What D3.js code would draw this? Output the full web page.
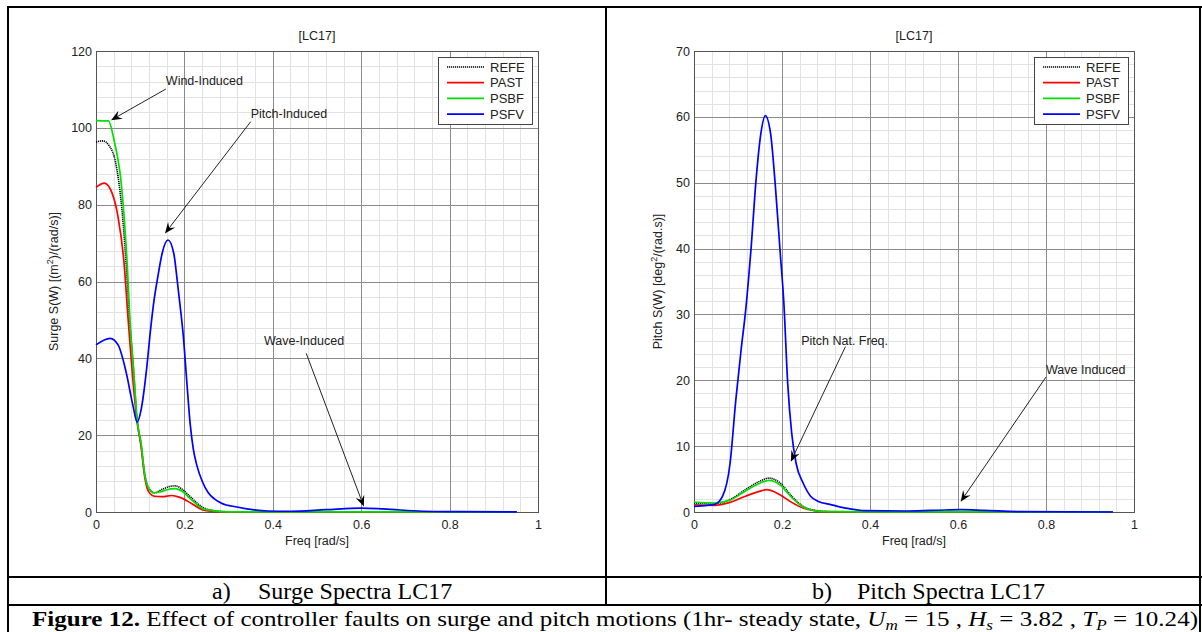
<!DOCTYPE html>
<html><head><meta charset="utf-8">
<script src="https://cdn.jsdelivr.net/npm/d3@7"></script>
<style>
html,body{margin:0;padding:0;background:#fff;}
svg{display:block;}
text{font-family:"Liberation Sans",Arial,Helvetica,sans-serif;fill:#222;}
text.serif{font-family:"Liberation Serif","Times New Roman",Times,serif;fill:#000;}
</style></head>
<body>
<script>
// ---------------- DATA ----------------
const seriesNames = ["REFE","PAST","PSBF","PSFV"];
const xTicks = [0,0.2,0.4,0.6,0.8,1];
const surgeTicks = [0,20,40,60,80,100,120];
const pitchTicks = [0,10,20,30,40,50,60,70];

// Surge spectra [freq, S]
const surgeREFE = [[0,96.3],[0.015,96.6],[0.03,95.3],[0.045,90.6],[0.058,79.5],[0.071,59.5],[0.076,50],[0.085,37],[0.093,24],[0.102,17.5],[0.11,10],[0.119,6.3],[0.132,5.0],[0.15,5.9],[0.165,6.6],[0.18,6.8],[0.195,5.9],[0.215,3.8],[0.24,1.3],[0.267,0.35],[0.3,0.06],[0.4,0.02],[0.6,0.05],[0.8,0.01],[0.952,0]];
const surgePAST = [[0,84.5],[0.019,85.6],[0.037,82.8],[0.05,76.7],[0.063,65.4],[0.073,49.7],[0.083,35],[0.093,23.5],[0.102,17],[0.11,9.3],[0.119,5.3],[0.132,4.1],[0.15,4.0],[0.171,4.3],[0.19,3.8],[0.215,2.3],[0.24,0.6],[0.26,0.2],[0.3,0.05],[0.4,0.02],[0.6,0.04],[0.8,0.01],[0.952,0]];
const surgePSBF = [[0,101.9],[0.028,101.8],[0.041,96.7],[0.058,84.5],[0.071,63.6],[0.077,49.7],[0.085,37],[0.093,24],[0.102,17.9],[0.11,10],[0.119,6.2],[0.132,5.0],[0.145,5.2],[0.16,5.8],[0.18,6.1],[0.195,5.4],[0.215,3.3],[0.24,1.0],[0.267,0.3],[0.3,0.05],[0.4,0.02],[0.6,0.05],[0.8,0.01],[0.952,0]];
const surgePSFV = [[0,43.5],[0.032,45.2],[0.05,43.5],[0.067,37],[0.084,27.5],[0.093,23.4],[0.102,26.6],[0.115,37.8],[0.123,47],[0.13,54],[0.141,62],[0.15,67.5],[0.163,70.8],[0.176,67.3],[0.184,60],[0.19,54],[0.197,46.5],[0.206,33],[0.213,23],[0.22,16.5],[0.228,12.2],[0.241,7.8],[0.254,5.0],[0.267,3.5],[0.284,2.3],[0.319,1.3],[0.354,0.6],[0.389,0.26],[0.44,0.2],[0.52,0.6],[0.6,1.0],[0.65,0.8],[0.74,0.2],[0.82,0.1],[0.952,0.02]];

// Pitch spectra [freq, S]
const pitchREFE = [[0,1.36],[0.047,1.26],[0.082,1.9],[0.117,3.4],[0.152,4.75],[0.17,5.15],[0.196,4.4],[0.222,2.4],[0.248,0.86],[0.274,0.25],[0.3,0.05],[0.5,0.02],[0.952,0]];
const pitchPAST = [[0,1.1],[0.047,1.0],[0.082,1.46],[0.117,2.4],[0.152,3.2],[0.165,3.4],[0.196,2.6],[0.222,1.46],[0.248,0.6],[0.274,0.2],[0.3,0.05],[0.5,0.02],[0.952,0]];
const pitchPSBF = [[0,1.5],[0.047,1.36],[0.082,1.8],[0.117,3.2],[0.152,4.45],[0.17,4.8],[0.196,4.1],[0.222,2.2],[0.248,0.75],[0.274,0.2],[0.3,0.05],[0.5,0.02],[0.952,0]];
const pitchPSFV = [[0,0.86],[0.03,1.0],[0.047,1.16],[0.065,2.4],[0.082,7.4],[0.095,17],[0.107,24.6],[0.118,31],[0.13,40.3],[0.141,50.4],[0.152,57.5],[0.162,60.2],[0.174,57.5],[0.185,49.4],[0.196,39.3],[0.204,32],[0.213,19.5],[0.222,12],[0.232,7.4],[0.248,4.4],[0.265,2.4],[0.283,1.6],[0.309,1.16],[0.344,0.6],[0.388,0.2],[0.484,0.15],[0.571,0.3],[0.606,0.35],[0.659,0.25],[0.746,0.05],[0.952,0]];

const seriesColors = ["#000000","#ff0000","#00e000","#0000ff"];

// annotations in data coords: text, text anchor point, arrow tail, arrow tip
const surgeNotes = [
  {label:"Wind-Induced", text:[0.158,112.4], tail:[0.158,110.1], tip:[0.034,102]},
  {label:"Pitch-Induced", text:[0.35,103.8], tail:[0.35,101.6], tip:[0.156,72.5]},
  {label:"Wave-Induced", text:[0.38,44.6], tail:[0.4756,41.3], tip:[0.606,1.4]}
];
const pitchNotes = [
  {label:"Pitch Nat. Freq.", text:[0.2436,26.0], tail:[0.3441,25.1], tip:[0.22,7.64]},
  {label:"Wave Induced", text:[0.8,21.7], tail:[0.8,20.5], tip:[0.606,1.56]}
];

// ---------------- DRAW ----------------
const W=1202,H=632;
const svg=d3.select("body").append("svg").attr("width",W).attr("height",H);
svg.append("rect").attr("width",W).attr("height",H).attr("fill","#fff");

function panel(opt){
  const g=svg.append("g");
  const x=d3.scaleLinear().domain([0,1]).range([opt.x0,opt.x1]);
  const y=d3.scaleLinear().domain([0,opt.ymax]).range([opt.y1,opt.y0]);
  const xMinor=d3.range(0,1.0001,0.04).filter(v=>Math.abs(v/0.2-Math.round(v/0.2))>1e-6);
  const yMinor=d3.range(0,opt.ymax+1e-6,opt.minor).filter(v=>Math.abs(v/opt.major-Math.round(v/opt.major))>1e-6);
  g.selectAll(".xm").data(xMinor).join("line").attr("x1",d=>Math.round(x(d))+0.5).attr("x2",d=>Math.round(x(d))+0.5)
    .attr("y1",opt.y0).attr("y2",opt.y1).attr("stroke","#e2e2e2").attr("stroke-width",1);
  g.selectAll(".ym").data(yMinor).join("line").attr("y1",d=>Math.round(y(d))+0.5).attr("y2",d=>Math.round(y(d))+0.5)
    .attr("x1",opt.x0).attr("x2",opt.x1).attr("stroke","#e2e2e2").attr("stroke-width",1);
  g.selectAll(".xM").data(xTicks).join("line").attr("x1",d=>Math.round(x(d))+0.5).attr("x2",d=>Math.round(x(d))+0.5)
    .attr("y1",opt.y0).attr("y2",opt.y1).attr("stroke","#8a8a8a").attr("stroke-width",1);
  g.selectAll(".yM").data(opt.ticks).join("line").attr("y1",d=>Math.round(y(d))+0.5).attr("y2",d=>Math.round(y(d))+0.5)
    .attr("x1",opt.x0).attr("x2",opt.x1).attr("stroke","#8a8a8a").attr("stroke-width",1);
  const xa=g.append("g").attr("transform",`translate(0,${opt.y1})`)
    .call(d3.axisBottom(x).tickValues(xTicks).tickFormat(d3.format("~g")).tickSize(0).tickPadding(8));
  xa.select(".domain").remove();
  xa.selectAll("text").attr("font-size","12.5px").attr("fill","#222").attr("font-family",'"Liberation Sans",Arial,sans-serif');
  const ya=g.append("g").attr("transform",`translate(${opt.x0},0)`)
    .call(d3.axisLeft(y).tickValues(opt.ticks).tickSize(0).tickPadding(4));
  ya.select(".domain").remove();
  ya.selectAll("text").attr("font-size","12.5px").attr("fill","#222").attr("font-family",'"Liberation Sans",Arial,sans-serif');
  g.append("rect").attr("x",opt.x0+0.5).attr("y",opt.y0+0.5).attr("width",opt.x1-opt.x0).attr("height",opt.y1-opt.y0)
    .attr("fill","none").attr("stroke","#555").attr("stroke-width",1);
  const line=d3.line().x(d=>x(d[0])).y(d=>y(d[1])).curve(d3.curveMonotoneX);
  opt.series.forEach((s,i)=>{
    g.append("path").attr("d",line(s)).attr("fill","none").attr("stroke",seriesColors[i])
      .attr("stroke-width",i===0?1.6:1.7).attr("stroke-dasharray",i===0?"1.2,0.8":null).attr("stroke-linejoin","round");
  });
  g.append("text").attr("x",(opt.x0+opt.x1)/2).attr("y",40).attr("text-anchor","middle").attr("font-size","12.5px").text("[LC17]");
  g.append("text").attr("x",(opt.x0+opt.x1)/2).attr("y",545).attr("text-anchor","middle").attr("font-size","12.5px").text("Freq [rad/s]");
  const yl=g.append("text").attr("transform",`translate(${opt.ylabX},${(opt.y0+opt.y1)/2}) rotate(-90)`)
    .attr("text-anchor","middle").attr("font-size","12.5px");
  yl.append("tspan").text(opt.ylab[0]);
  yl.append("tspan").attr("dy","-5").attr("font-size","9px").text("2");
  yl.append("tspan").attr("dy","5").text(opt.ylab[1]);
  const lx=opt.x1-100, ly=opt.y0+6;
  const lg=g.append("g");
  lg.append("rect").attr("x",lx+0.5).attr("y",ly+0.5).attr("width",94).attr("height",67).attr("fill","#fff").attr("stroke","#444").attr("stroke-width",1);
  seriesNames.forEach((n,i)=>{
    const yy=ly+10+i*15.7;
    lg.append("line").attr("x1",lx+9).attr("x2",lx+46).attr("y1",yy).attr("y2",yy).attr("stroke",seriesColors[i])
      .attr("stroke-width",i===0?1.4:1.7).attr("stroke-dasharray",i===0?"1.2,0.8":null);
    lg.append("text").attr("x",lx+52).attr("y",yy+4.5).attr("font-size","13px").attr("fill","#111").text(n);
  });
  opt.notes.forEach(n=>{
    g.append("text").attr("x",x(n.text[0])).attr("y",y(n.text[1])+4.5).attr("font-size","12.5px").attr("fill","#111").text(n.label);
    const tx=x(n.tail[0]),ty=y(n.tail[1]),px=x(n.tip[0]),py=y(n.tip[1]);
    const ang=Math.atan2(py-ty,px-tx), L=11, Wd=4.5, notch=7;
    const ux=Math.cos(ang),uy=Math.sin(ang),vx=-uy,vy=ux;
    g.append("line").attr("x1",tx).attr("y1",ty).attr("x2",px-ux*notch).attr("y2",py-uy*notch).attr("stroke","#222").attr("stroke-width",1);
    const pts=[[px,py],[px-ux*L+vx*Wd,py-uy*L+vy*Wd],[px-ux*notch,py-uy*notch],[px-ux*L-vx*Wd,py-uy*L-vy*Wd]];
    g.append("path").attr("d","M"+pts.map(p=>p.join(",")).join("L")+"Z").attr("fill","#000");
  });
}

panel({x0:96,x1:538,y0:51,y1:512,ymax:120,ticks:surgeTicks,major:20,minor:4,
  series:[surgeREFE,surgePAST,surgePSBF,surgePSFV],notes:surgeNotes,ylabX:58,ylab:["Surge S(W) [(m",")/(rad/s)]"]});
panel({x0:694,x1:1134,y0:51,y1:512,ymax:70,ticks:pitchTicks,major:10,minor:2,
  series:[pitchREFE,pitchPAST,pitchPSBF,pitchPSFV],notes:pitchNotes,ylabX:662,ylab:["Pitch S(W) [deg","/(rad.s)]"]});

// ---------------- TABLE FRAME ----------------
const tb=svg.append("g").attr("stroke","#000").attr("stroke-width",2);
tb.append("line").attr("x1",7).attr("x2",1202).attr("y1",7).attr("y2",7);
tb.append("line").attr("x1",8).attr("x2",8).attr("y1",6).attr("y2",632);
tb.append("line").attr("x1",1200).attr("x2",1200).attr("y1",6).attr("y2",632);
tb.append("line").attr("x1",606).attr("x2",606).attr("y1",6).attr("y2",605);
tb.append("line").attr("x1",7).attr("x2",1202).attr("y1",577).attr("y2",577);
tb.append("line").attr("x1",7).attr("x2",1202).attr("y1",605).attr("y2",605);

const SERIF='"Liberation Serif","Times New Roman",Times,serif';
function cap(xp,t){
  svg.append("text").attr("class","serif").attr("font-family",SERIF).attr("x",xp).attr("y",599).attr("font-size","24px").text(t);
}
cap(212,"a)"); cap(258,"Surge Spectra LC17"); cap(812,"b)"); cap(857,"Pitch Spectra LC17");

const fc=svg.append("text").attr("class","serif").attr("font-family",SERIF).attr("x",32).attr("y",626).attr("font-size","22px")
  .attr("textLength",1166).attr("lengthAdjust","spacingAndGlyphs");
fc.append("tspan").attr("font-weight","bold").text("Figure 12.");
fc.append("tspan").text(" Effect of controller faults on surge and pitch motions (1hr- steady state, ");
fc.append("tspan").attr("font-style","italic").text("U");
fc.append("tspan").attr("font-style","italic").attr("font-size","15px").attr("dy","4").text("m");
fc.append("tspan").attr("dy","-4").text(" = 15 , ");
fc.append("tspan").attr("font-style","italic").text("H");
fc.append("tspan").attr("font-style","italic").attr("font-size","15px").attr("dy","4").text("s");
fc.append("tspan").attr("dy","-4").text(" = 3.82 , ");
fc.append("tspan").attr("font-style","italic").text("T");
fc.append("tspan").attr("font-style","italic").attr("font-size","15px").attr("dy","4").text("P");
fc.append("tspan").attr("dy","-4").text(" = 10.24)");
</script>
</body></html>
